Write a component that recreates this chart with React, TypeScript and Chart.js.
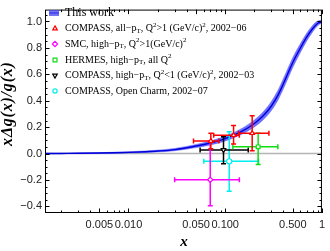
import React, { useEffect, useRef } from 'react';
import { Chart, registerables } from 'chart.js';
Chart.register(...registerables);

const X_MIN = 0.00137;
const X_MAX = 1;
const Y_MIN = -0.45;
const Y_MAX = 1.09;

// "This work" band
const bandX = [0.00137, 0.002, 0.003, 0.005, 0.007, 0.01, 0.015, 0.02, 0.03, 0.05, 0.07, 0.1, 0.15, 0.2, 0.25, 0.3, 0.35, 0.4, 0.45, 0.5, 0.6, 0.7, 0.8, 0.9, 1.0];
const bandCentral = [0.0, 0.001, 0.002, 0.004, 0.006, 0.009, 0.014, 0.019, 0.03, 0.057, 0.08, 0.113, 0.17, 0.228, 0.29, 0.36, 0.44, 0.53, 0.615, 0.69, 0.8, 0.885, 0.945, 0.985, 1.0];
const bandLower = [-0.002, -0.001, -0.001, 0.001, 0.002, 0.004, 0.008, 0.012, 0.021, 0.045, 0.065, 0.095, 0.148, 0.202, 0.26, 0.326, 0.403, 0.492, 0.577, 0.653, 0.767, 0.856, 0.92, 0.967, 0.99];
const bandUpper = [0.002, 0.003, 0.005, 0.007, 0.01, 0.014, 0.02, 0.026, 0.039, 0.069, 0.095, 0.131, 0.192, 0.254, 0.32, 0.394, 0.477, 0.568, 0.653, 0.727, 0.833, 0.914, 0.97, 1.003, 1.01];

// COMPASS, all-pT, Q2>1, 2002-06
const compassAllX = [0.071, 0.122, 0.19];
const compassAllY = [0.095, 0.139, 0.154];
const compassAllXLo = [0.047, 0.076, 0.137];
const compassAllXHi = [0.086, 0.14, 0.283];
const compassAllYLo = [0.037, 0.073, 0.022];
const compassAllYHi = [0.154, 0.212, 0.286];

// SMC
const smcX = [0.07];
const smcY = [-0.198];
const smcXLo = [0.03];
const smcXHi = [0.14];
const smcYLo = [-0.396];
const smcYHi = [0.093];

// HERMES
const hermesX = [0.219];
const hermesY = [0.051];
const hermesXLo = [0.12];
const hermesXHi = [0.35];
const hermesYLo = [-0.083];
const hermesYHi = [0.154];

// COMPASS, high-pT, Q2<1, 2002-03
const compassLowX = [0.096];
const compassLowY = [0.027];
const compassLowXLo = [0.055];
const compassLowXHi = [0.173];
const compassLowYLo = [-0.077];
const compassLowYHi = [0.128];

// COMPASS, open charm
const charmX = [0.11];
const charmY = [-0.059];
const charmXLo = [0.06];
const charmXHi = [0.221];
const charmYLo = [-0.286];
const charmYHi = [0.165];

const xTickValues = [0.005, 0.01, 0.05, 0.1, 0.5, 1];
const xTickLabels = ['0.005', '0.010', '0.050', '0.100', '0.500', '1'];
const xMinorTicks = [0.002, 0.003, 0.004, 0.006, 0.007, 0.008, 0.009, 0.02, 0.03, 0.04, 0.06, 0.07, 0.08, 0.09, 0.2, 0.3, 0.4, 0.6, 0.7, 0.8, 0.9];
const yTickValues = [-0.4, -0.2, 0, 0.2, 0.4, 0.6, 0.8, 1.0];
const yTickLabels = ['\u22120.4', '\u22120.2', '0.0', '0.2', '0.4', '0.6', '0.8', '1.0'];
const yMinorTicks = [-0.35, -0.3, -0.25, -0.15, -0.1, -0.05, 0.05, 0.1, 0.15, 0.25, 0.3, 0.35, 0.45, 0.5, 0.55, 0.65, 0.7, 0.75, 0.85, 0.9, 0.95, 1.05];

const bandLabel = 'This work';
// legend labels as rich segments: [text, -1 sub / 0 normal / 1 sup]
const legendCompassAll: [string, number][] = [['COMPASS, all\u2212p', 0], ['T', -1], [', Q', 0], ['2', 1], ['>1 (GeV/c)', 0], ['2', 1], [', 2002\u221206', 0]];
const legendSmc: [string, number][] = [['SMC, high\u2212p', 0], ['T', -1], [', Q', 0], ['2', 1], ['>1(GeV/c)', 0], ['2', 1]];
const legendHermes: [string, number][] = [['HERMES, high\u2212p', 0], ['T', -1], [', all Q', 0], ['2', 1]];
const legendCompassLow: [string, number][] = [['COMPASS, high\u2212p', 0], ['T', -1], [', Q', 0], ['2', 1], ['<1 (GeV/c)', 0], ['2', 1], [', 2002\u221203', 0]];
const legendCharm: [string, number][] = [['COMPASS, Open Charm, 2002\u221207', 0]];

const yTitle = 'x\u0394g(x)/g(x)';
const xTitle = 'x';

type Series = {
  legend: [string, number][];
  x: number[]; y: number[]; xLo: number[]; xHi: number[]; yLo: number[]; yHi: number[];
  color: string; style: string; rot: number;
};

const series: Series[] = [
  { legend: legendCompassAll, x: compassAllX, y: compassAllY, xLo: compassAllXLo, xHi: compassAllXHi, yLo: compassAllYLo, yHi: compassAllYHi, color: '#ff0000', style: 'triangle', rot: 0 },
  { legend: legendSmc, x: smcX, y: smcY, xLo: smcXLo, xHi: smcXHi, yLo: smcYLo, yHi: smcYHi, color: '#ff00ff', style: 'rectRot', rot: 0 },
  { legend: legendHermes, x: hermesX, y: hermesY, xLo: hermesXLo, xHi: hermesXHi, yLo: hermesYLo, yHi: hermesYHi, color: '#11dd11', style: 'rect', rot: 0 },
  { legend: legendCompassLow, x: compassLowX, y: compassLowY, xLo: compassLowXLo, xHi: compassLowXHi, yLo: compassLowYLo, yHi: compassLowYHi, color: '#000000', style: 'triangle', rot: 180 },
  { legend: legendCharm, x: charmX, y: charmY, xLo: charmXLo, xHi: charmXHi, yLo: charmYLo, yHi: charmYHi, color: '#00eeee', style: 'circle', rot: 0 },
];

const BAND_FILL = 'rgba(45,45,255,0.68)';
const BAND_LINE = '#0000d8';

function drawMarker(ctx: CanvasRenderingContext2D, style: string, rot: number, x: number, y: number, r: number, color: string) {
  ctx.save();
  ctx.translate(x, y);
  ctx.rotate((rot * Math.PI) / 180);
  ctx.beginPath();
  if (style === 'triangle') {
    ctx.moveTo(0, -r);
    ctx.lineTo(r * 0.87, r * 0.55);
    ctx.lineTo(-r * 0.87, r * 0.55);
    ctx.closePath();
  } else if (style === 'rectRot') {
    ctx.moveTo(0, -r); ctx.lineTo(r, 0); ctx.lineTo(0, r); ctx.lineTo(-r, 0); ctx.closePath();
  } else if (style === 'rect') {
    const s = r * 0.75;
    ctx.rect(-s, -s, 2 * s, 2 * s);
  } else {
    ctx.arc(0, 0, r * 0.8, 0, Math.PI * 2);
  }
  ctx.fillStyle = '#fff';
  ctx.fill();
  ctx.strokeStyle = color;
  ctx.lineWidth = 1.2;
  ctx.stroke();
  ctx.restore();
}

function drawRich(ctx: CanvasRenderingContext2D, segs: [string, number][], x: number, y: number, size: number) {
  let cx = x;
  for (const [t, mode] of segs) {
    const fs = mode === 0 ? size : size * 0.7;
    ctx.font = `${fs}px "Liberation Serif"`;
    const dy = mode === -1 ? 2.5 : mode === 1 ? -3.5 : 0;
    ctx.fillText(t, cx, y + dy);
    cx += ctx.measureText(t).width;
  }
}

const customPlugin = {
  id: 'custom',
  beforeDatasetsDraw(chart: any) {
    const { ctx, chartArea: a, scales } = chart;
    const y0 = scales.y.getPixelForValue(0);
    ctx.save();
    ctx.strokeStyle = '#b4b4b4';
    ctx.lineWidth = 1.5;
    ctx.beginPath();
    ctx.moveTo(a.left, y0);
    ctx.lineTo(a.right, y0);
    ctx.stroke();
    ctx.restore();
  },
  beforeDatasetDraw(chart: any, args: any) {
    const ds = chart.data.datasets[args.index];
    const s: Series | undefined = ds.series;
    if (!s) return;
    const { ctx, scales } = chart;
    const xs = scales.x, ys = scales.y;
    ctx.save();
    ctx.strokeStyle = s.color;
    ctx.lineWidth = 1.5;
    const cap = 2.5;
    for (let i = 0; i < s.x.length; i++) {
      const px = xs.getPixelForValue(s.x[i]);
      const py = ys.getPixelForValue(s.y[i]);
      const xl = xs.getPixelForValue(s.xLo[i]);
      const xh = xs.getPixelForValue(s.xHi[i]);
      const yl = ys.getPixelForValue(s.yLo[i]);
      const yh = ys.getPixelForValue(s.yHi[i]);
      ctx.beginPath();
      ctx.moveTo(xl, py); ctx.lineTo(xh, py);
      ctx.moveTo(xl, py - cap); ctx.lineTo(xl, py + cap);
      ctx.moveTo(xh, py - cap); ctx.lineTo(xh, py + cap);
      ctx.moveTo(px, yl); ctx.lineTo(px, yh);
      ctx.moveTo(px - cap, yl); ctx.lineTo(px + cap, yl);
      ctx.moveTo(px - cap, yh); ctx.lineTo(px + cap, yh);
      ctx.stroke();
    }
    ctx.restore();
  },
  afterDraw(chart: any) {
    const { ctx, chartArea: a, scales } = chart;
    const xs = scales.x, ys = scales.y;
    ctx.save();
    ctx.strokeStyle = '#000';
    ctx.lineWidth = 1;
    ctx.strokeRect(a.left + 0.5, a.top + 0.5, a.right - a.left - 1, a.bottom - a.top - 1);
    ctx.beginPath();
    const tickX = (v: number, len: number) => {
      const p = Math.round(xs.getPixelForValue(v)) + 0.5;
      ctx.moveTo(p, a.bottom); ctx.lineTo(p, a.bottom - len);
      ctx.moveTo(p, a.top); ctx.lineTo(p, a.top + len);
    };
    const tickY = (v: number, len: number) => {
      const p = Math.round(ys.getPixelForValue(v)) + 0.5;
      ctx.moveTo(a.left, p); ctx.lineTo(a.left + len, p);
      ctx.moveTo(a.right, p); ctx.lineTo(a.right - len, p);
    };
    xTickValues.forEach((v) => tickX(v, 4.5));
    xMinorTicks.forEach((v) => tickX(v, 2.5));
    yTickValues.forEach((v) => tickY(v, 4.5));
    yMinorTicks.forEach((v) => tickY(v, 2.5));
    ctx.stroke();

    // legend
    ctx.textBaseline = 'middle';
    ctx.textAlign = 'left';
    ctx.fillStyle = 'rgba(80,80,245,0.8)';
    ctx.fillRect(49, 10, 10, 6);
    ctx.strokeStyle = '#2828e8';
    ctx.lineWidth = 1;
    ctx.beginPath(); ctx.moveTo(49, 13); ctx.lineTo(59, 13); ctx.stroke();
    ctx.fillStyle = '#000';
    ctx.font = '12px "Liberation Serif"';
    ctx.fillText(bandLabel, 65, 13);
    const rows = [28.5, 44, 60, 75.5, 91];
    series.forEach((s, i) => {
      drawMarker(ctx, s.style, s.rot, 55, rows[i], 2.6, s.color);
      ctx.fillStyle = '#000';
      drawRich(ctx, s.legend, 65, rows[i], 10);
    });

    // axis titles
    ctx.fillStyle = '#000';
    ctx.textAlign = 'center';
    ctx.textBaseline = 'middle';
    ctx.font = 'italic bold 16px "Liberation Serif"';
    (ctx as any).letterSpacing = '0.8px';
    ctx.save();
    ctx.translate(8, 104);
    ctx.rotate(-Math.PI / 2);
    ctx.fillText(yTitle, 0.4, 0);
    ctx.restore();
    (ctx as any).letterSpacing = '0px';
    ctx.font = 'italic bold 15px "Liberation Serif"';
    ctx.fillText(xTitle, 184, 242);
    ctx.restore();
  },
};

export default function App() {
  const ref = useRef<HTMLCanvasElement>(null);
  useEffect(() => {
    document.body.style.margin = '0';
    const canvas = ref.current!;
    const pts = (xs: number[], ys: number[]) => xs.map((x, i) => ({ x, y: ys[i] }));
    const chart = new Chart(canvas, {
      type: 'scatter',
      data: {
        datasets: [
          ...series.map((s) => ({
            type: 'scatter',
            data: pts(s.x, s.y),
            pointStyle: s.style,
            rotation: s.rot,
            radius: 2.6,
            backgroundColor: '#ffffff',
            borderColor: s.color,
            borderWidth: 1.2,
            order: 0,
            series: s,
          })),
          {
            type: 'line',
            data: pts(bandX, bandUpper),
            borderWidth: 0.8,
            borderColor: 'rgba(90,90,255,0.6)',
            pointRadius: 0,
            fill: '+1',
            backgroundColor: BAND_FILL,
            cubicInterpolationMode: 'monotone',
            order: 10,
          },
          {
            type: 'line',
            data: pts(bandX, bandLower),
            borderWidth: 0.8,
            borderColor: 'rgba(90,90,255,0.6)',
            pointRadius: 0,
            fill: false,
            cubicInterpolationMode: 'monotone',
            order: 10,
          },
          {
            type: 'line',
            data: pts(bandX, bandCentral),
            borderWidth: 1.4,
            borderColor: BAND_LINE,
            pointRadius: 0,
            fill: false,
            cubicInterpolationMode: 'monotone',
            order: 9,
          },
        ] as any,
      },
      options: {
        responsive: false,
        animation: false,
        devicePixelRatio: 1,
        layout: { padding: { top: 3, right: 3, left: 0, bottom: 0 } },
        plugins: { legend: { display: false }, tooltip: { enabled: false } },
        scales: {
          x: {
            type: 'logarithmic',
            min: X_MIN,
            max: X_MAX,
            position: 'bottom',
            grid: { display: false, drawTicks: false },
            border: { display: false },
            afterBuildTicks: (scale: any) => {
              scale.ticks = xTickValues.map((v) => ({ value: v }));
            },
            afterFit: (scale: any) => { scale.height = 38; },
            ticks: {
              autoSkip: false,
              maxRotation: 0,
              padding: 5,
              color: '#222',
              font: { family: 'Liberation Sans', size: 11 },
              callback: (v: any) => {
                const i = xTickValues.findIndex((t) => Math.abs(t - v) < 1e-9);
                return i >= 0 ? xTickLabels[i] : '';
              },
            },
          },
          y: {
            type: 'linear',
            min: Y_MIN,
            max: Y_MAX,
            grid: { display: false, drawTicks: false },
            border: { display: false },
            afterBuildTicks: (scale: any) => {
              scale.ticks = yTickValues.map((v) => ({ value: v }));
            },
            afterFit: (scale: any) => { scale.width = 45; },
            ticks: {
              autoSkip: false,
              padding: 3,
              color: '#222',
              font: { family: 'Liberation Sans', size: 11 },
              callback: (v: any) => {
                const i = yTickValues.findIndex((t) => Math.abs(t - v) < 1e-9);
                return i >= 0 ? yTickLabels[i] : '';
              },
            },
          },
        },
      } as any,
      plugins: [customPlugin as any],
    });
    return () => chart.destroy();
  }, []);
  return (
    <div style={{ width: 330, height: 251 }}>
      <canvas ref={ref} width={330} height={251} style={{ display: 'block', width: '330px', height: '251px' }} />
    </div>
  );
}
